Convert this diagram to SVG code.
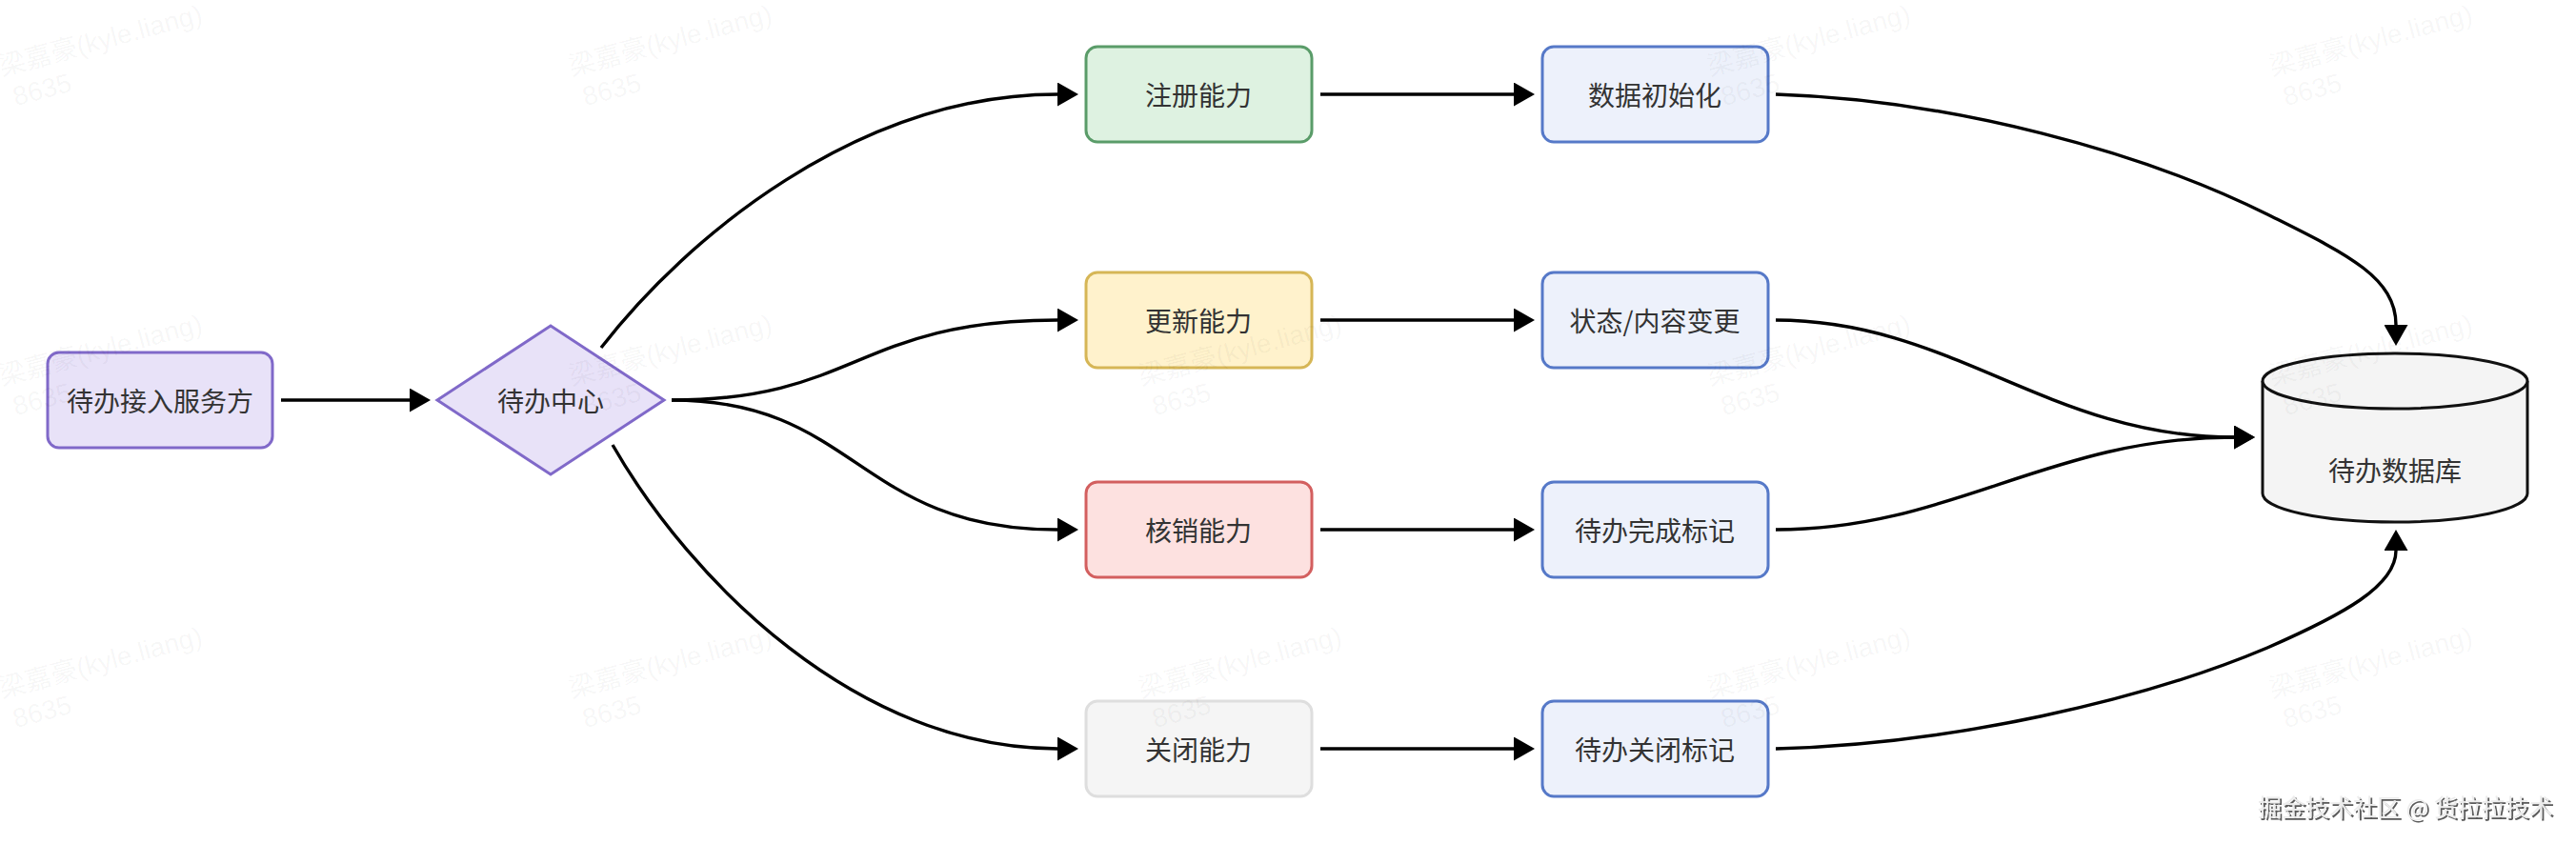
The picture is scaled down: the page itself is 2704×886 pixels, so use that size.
<svg xmlns="http://www.w3.org/2000/svg" width="2704" height="886" viewBox="0 0 2704 886">
  <defs>
    <marker id="ah" viewBox="0 0 22 25" refX="0" refY="12.5" markerWidth="22" markerHeight="25" markerUnits="userSpaceOnUse" orient="auto">
      <path d="M0,0 L22,12.5 L0,25 Z" fill="#000"/>
    </marker>
    <filter id="emboss" x="-5%" y="-30%" width="110%" height="160%">
      <feOffset in="SourceAlpha" dx="1.5" dy="1.5" result="off"/>
      <feFlood flood-color="#5a5a5a"/>
      <feComposite in2="off" operator="in" result="sh"/>
      <feMerge><feMergeNode in="sh"/><feMergeNode in="SourceGraphic"/></feMerge>
    </filter>
  </defs>
  <style>
    .lbl { font-family: "Noto Sans CJK SC", "Noto Sans", "Liberation Sans", sans-serif; font-size: 28px; fill: #333; text-anchor: middle; dominant-baseline: central; }
    .box { stroke-width: 3; }
    .purple { fill: #e8e2f8; stroke: #8069c9; }
    .green { fill: #def2e1; stroke: #5a9c69; }
    .yellow { fill: #fff2cc; stroke: #d6b656; }
    .red { fill: #fde1e0; stroke: #d35f5f; }
    .gray { fill: #f5f5f5; stroke: #dedede; }
    .blue { fill: #edf1fb; stroke: #5679c8; }
    .db { fill: #f4f4f4; stroke: #111; stroke-width: 3; }
    .conn path { fill: none; stroke: #000; stroke-width: 3.4; marker-end: url(#ah); }
    .wm text { font-family: "Liberation Sans", "Noto Sans CJK SC", sans-serif; font-size: 28px; fill: #000; fill-opacity: 0.045; }
    .brand { font-family: "Noto Sans CJK SC", "Liberation Sans", sans-serif; font-size: 25px; fill: #ececec; dominant-baseline: central; }
  </style>
  <rect x="0" y="0" width="2704" height="886" fill="#ffffff"/>

  <g id="connectors" class="conn">
    <path d="M295,420 L430,420"/>
    <path d="M631,365 C720,250 900,99 1110,99"/>
    <path d="M705,420 C900,420 900,336 1110,336"/>
    <path d="M705,420 C900,420 900,556 1110,556"/>
    <path d="M643,467 C725,610 900,786 1110,786"/>
    <path d="M1386,99 L1589,99"/>
    <path d="M1386,336 L1589,336"/>
    <path d="M1386,556 L1589,556"/>
    <path d="M1386,786 L1589,786"/>
    <path d="M1864,99 C2050,105 2250,160 2380,225 C2460,265 2515,290 2515,341"/>
    <path d="M1864,336 C2050,336 2150,459 2345,459"/>
    <path d="M1864,556 C2050,556 2150,459 2345,459"/>
    <path d="M1864,786 C2050,781 2250,735 2380,680 C2460,645 2515,615 2515,578"/>
  </g>

  <g id="node-provider">
    <rect class="box purple" x="50" y="370" width="236" height="100" rx="12"/>
    <text class="lbl" x="168" y="420">待办接入服务方</text>
  </g>
  <g id="node-center">
    <polygon class="box purple" points="459,420 578,342 697,420 578,498"/>
    <text class="lbl" x="578" y="420">待办中心</text>
  </g>

  <g id="node-register">
    <rect class="box green" x="1140" y="49" width="237" height="100" rx="12"/>
    <text class="lbl" x="1258" y="99">注册能力</text>
  </g>
  <g id="node-update">
    <rect class="box yellow" x="1140" y="286" width="237" height="100" rx="12"/>
    <text class="lbl" x="1258" y="336">更新能力</text>
  </g>
  <g id="node-verify">
    <rect class="box red" x="1140" y="506" width="237" height="100" rx="12"/>
    <text class="lbl" x="1258" y="556">核销能力</text>
  </g>
  <g id="node-close">
    <rect class="box gray" x="1140" y="736" width="237" height="100" rx="12"/>
    <text class="lbl" x="1258" y="786">关闭能力</text>
  </g>

  <g id="node-init">
    <rect class="box blue" x="1619" y="49" width="237" height="100" rx="12"/>
    <text class="lbl" x="1737" y="99">数据初始化</text>
  </g>
  <g id="node-change">
    <rect class="box blue" x="1619" y="286" width="237" height="100" rx="12"/>
    <text class="lbl" x="1737" y="336">状态/内容变更</text>
  </g>
  <g id="node-done">
    <rect class="box blue" x="1619" y="506" width="237" height="100" rx="12"/>
    <text class="lbl" x="1737" y="556">待办完成标记</text>
  </g>
  <g id="node-closed">
    <rect class="box blue" x="1619" y="736" width="237" height="100" rx="12"/>
    <text class="lbl" x="1737" y="786">待办关闭标记</text>
  </g>

  <g id="node-db">
    <path class="db" d="M2375,400 A139,29 0 0 1 2653,400 L2653,518 A139,30 0 0 1 2375,518 Z"/>
    <path class="db" d="M2375,400 A139,29 0 0 0 2653,400"/>
    <text class="lbl" x="2514" y="493">待办数据库</text>
  </g>

  <g id="watermarks" class="wm">
    <g transform="translate(2,80) rotate(-15)"><text>梁嘉豪(kyle.liang)</text><text x="6" y="34">8635</text></g>
    <g transform="translate(600,80) rotate(-15)"><text>梁嘉豪(kyle.liang)</text><text x="6" y="34">8635</text></g>
    <g transform="translate(1795,80) rotate(-15)"><text>梁嘉豪(kyle.liang)</text><text x="6" y="34">8635</text></g>
    <g transform="translate(2385,80) rotate(-15)"><text>梁嘉豪(kyle.liang)</text><text x="6" y="34">8635</text></g>
    <g transform="translate(2,405) rotate(-15)"><text>梁嘉豪(kyle.liang)</text><text x="6" y="34">8635</text></g>
    <g transform="translate(600,405) rotate(-15)"><text>梁嘉豪(kyle.liang)</text><text x="6" y="34">8635</text></g>
    <g transform="translate(1198,405) rotate(-15)"><text>梁嘉豪(kyle.liang)</text><text x="6" y="34">8635</text></g>
    <g transform="translate(1795,405) rotate(-15)"><text>梁嘉豪(kyle.liang)</text><text x="6" y="34">8635</text></g>
    <g transform="translate(2385,405) rotate(-15)"><text>梁嘉豪(kyle.liang)</text><text x="6" y="34">8635</text></g>
    <g transform="translate(2,733) rotate(-15)"><text>梁嘉豪(kyle.liang)</text><text x="6" y="34">8635</text></g>
    <g transform="translate(600,733) rotate(-15)"><text>梁嘉豪(kyle.liang)</text><text x="6" y="34">8635</text></g>
    <g transform="translate(1198,733) rotate(-15)"><text>梁嘉豪(kyle.liang)</text><text x="6" y="34">8635</text></g>
    <g transform="translate(1795,733) rotate(-15)"><text>梁嘉豪(kyle.liang)</text><text x="6" y="34">8635</text></g>
    <g transform="translate(2385,733) rotate(-15)"><text>梁嘉豪(kyle.liang)</text><text x="6" y="34">8635</text></g>
  </g>

  <g id="brand">
    <text class="brand" x="2370" y="846" filter="url(#emboss)">掘金技术社区 @ 货拉拉技术</text>
  </g>
</svg>
